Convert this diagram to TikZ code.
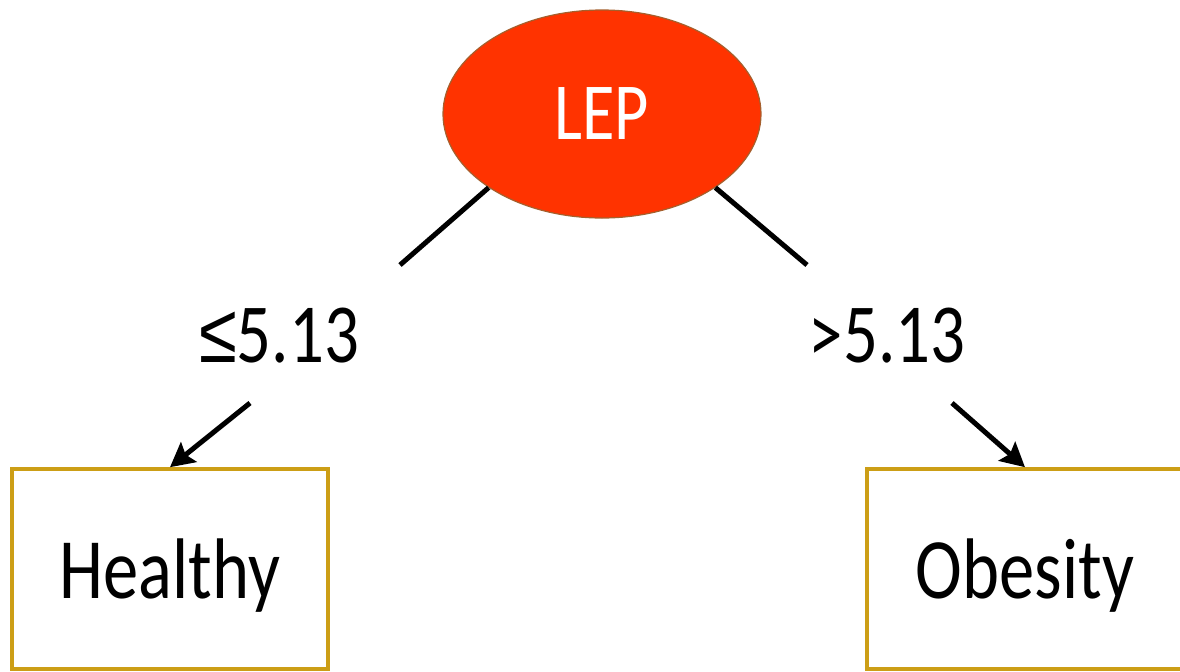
\documentclass[tikz,border=0pt]{standalone}
\usepackage{fontspec}
\setmainfont{Carlito}[FakeStretch=0.82]
\newfontfamily\relfont{Liberation Sans}[FakeStretch=0.82]
\usetikzlibrary{shapes.geometric}
\usetikzlibrary{arrows.meta}
\usetikzlibrary{positioning}
\definecolor{leporange}{RGB}{255,51,0}
\definecolor{lepborder}{RGB}{165,95,45}
\definecolor{leafgold}{RGB}{204,158,22}

\begin{document}
\begin{tikzpicture}[x=0.5pt,y=-0.5pt,>={Stealth[length=12pt,width=12.5pt,inset=2pt]},on grid,
	rootnode/.style={ellipse, draw=lepborder, line width=0.6pt, fill=leporange, text=white, minimum width=159pt, minimum height=104pt, font=\fontsize{40.5}{48}\selectfont},
	leafbox/.style={rectangle, draw=leafgold, line width=1.8pt, minimum width=158pt, minimum height=100pt, text depth=0pt, font=\fontsize{43}{50}\selectfont},
	splitlabel/.style={text depth=0pt, font=\fontsize{42}{50}\selectfont},
	branch/.style={line width=2.5pt}]
	\useasboundingbox (0,0) rectangle (1180,671);

	\node[rootnode] (LEP) at (602,114) {LEP};
	\node[splitlabel] (le) [below left=110.5pt and 161.5pt of LEP] {{\relfont ≤}5.13};
	\node[splitlabel] (gt) [below right=110.5pt and 142.5pt of LEP] {>5.13};
	\node[leafbox] (Healthy) [below left=227.5pt and 216pt of LEP] {Healthy};
	\node[leafbox] (Obesity) [below right=227.5pt and 211.5pt of LEP] {Obesity};

	\coordinate (lcut) at (400,265);
	\coordinate (rcut) at (807,265);
	\coordinate (lhead) at (250,403);
	\coordinate (rhead) at (952,403);

	\draw[branch] (LEP.-147) -- (lcut);
	\draw[branch] (LEP.-33) -- (rcut);
	\draw[branch,->] (lhead) -- (Healthy.north);
	\draw[branch,->] (rhead) -- (Obesity.north);
\end{tikzpicture}
\end{document}
